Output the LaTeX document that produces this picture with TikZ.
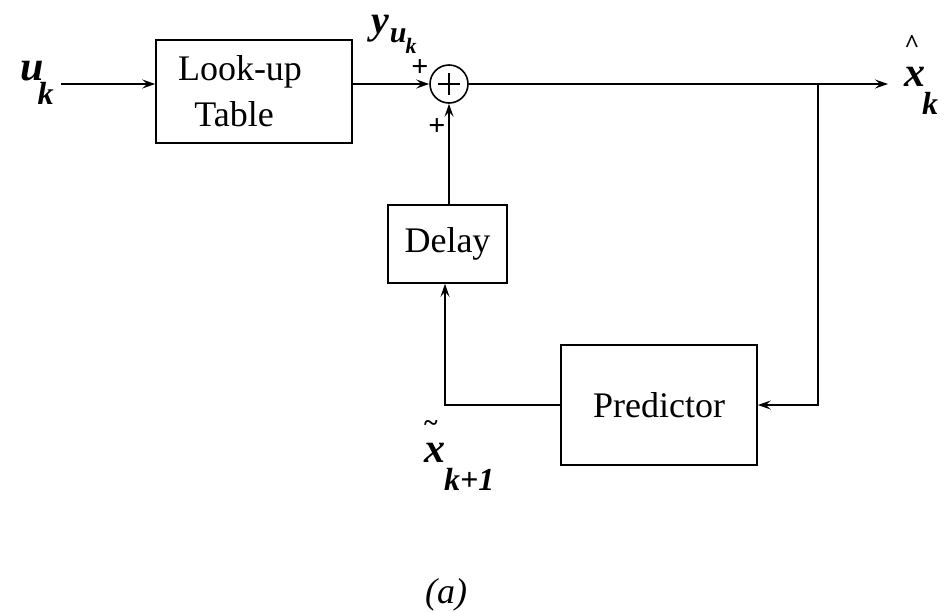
\documentclass[tikz,border=0pt]{standalone}
\usepackage{fontspec}
\setmainfont{Liberation Serif}
\usetikzlibrary{arrows.meta,calc}
\begin{document}
\begin{tikzpicture}[x=1pt,y=-1pt,
  blk/.style={draw,line width=1.6pt,inner sep=0pt,font=\fontsize{36}{46}\selectfont},
  arr/.style={line width=1.6pt,-{Stealth[length=13pt,width=9pt,inset=5pt]}},
  lbl/.style={inner sep=0pt,anchor=base west,font=\fontsize{42}{44}\selectfont\bfseries\itshape},
  acc/.style={inner sep=0pt,font=\fontsize{26}{26}\selectfont\bfseries},
  sgn/.style={inner sep=0pt,font=\fontsize{30}{30}\selectfont\bfseries}]
\useasboundingbox (0,0) rectangle (947,611);
\node[blk,minimum width=196pt,minimum height=103pt,align=center] (lut) at (254,91.5)
  {Look-up\hspace*{28pt}\\Table\hspace*{40pt}};
\node[blk,minimum width=119pt,minimum height=78pt] (delay) at (447.5,244) {\raisebox{-8pt}{Delay}};
\node[blk,minimum width=196pt,minimum height=120pt] (pred) at (659,405) {\raisebox{-10pt}{Predictor}};
\node[draw,circle,line width=1.6pt,minimum size=38pt,inner sep=0pt] (sum) at (449,84) {};
\draw[line width=2.2pt] ($(sum.center)+(-11,0)$) -- ($(sum.center)+(11,0)$)
  ($(sum.center)+(0,-11)$) -- ($(sum.center)+(0,11)$);
\node[lbl] (uk) at (20,80) {u\kern-6pt\raisebox{-24pt}{\fontsize{32}{32}\selectfont k}};
\coordinate (in) at (61,84);
\coordinate (br) at (818,84);
\coordinate (out) at (888,84);
\coordinate (fb) at (818,405);
\coordinate (dl) at (445,405);
\draw[arr] (in) -- (lut.west |- in);
\draw[arr] (lut.east |- sum) -- (sum.west);
\draw[arr] (sum.east) -- (out);
\draw[arr] (br) -- (fb) -- (pred.east |- fb);
\draw[arr] (pred.west |- dl) -- (dl) -- (dl |- delay.south);
\draw[arr] (delay.north -| sum) -- (sum.south);
\node[lbl] (xh) at (904,86) {x\kern-3pt\raisebox{-28pt}{\fontsize{32}{32}\selectfont k}};
\node[acc] (hat) at (912,44) {\^{}};
\node[lbl,font=\fontsize{40}{42}\selectfont\bfseries\itshape] (yu) at (371,33)
  {y\kern1pt\raisebox{-9pt}{\fontsize{30}{30}\selectfont u\kern-1pt\raisebox{-11pt}{\fontsize{22}{22}\selectfont k}}};
\node[sgn] (p1) at (420,68) {+};
\node[sgn] (p2) at (437,127) {+};
\node[lbl] (xt) at (424,462) {x\kern-1pt\raisebox{-28pt}{\fontsize{32}{32}\selectfont k+1}};
\node[acc] (tl) at (431,426) {\~{}};
\node[inner sep=0pt,font=\fontsize{36}{40}\selectfont\itshape] (cap) at (446,595) {(a)};
\end{tikzpicture}
\end{document}
